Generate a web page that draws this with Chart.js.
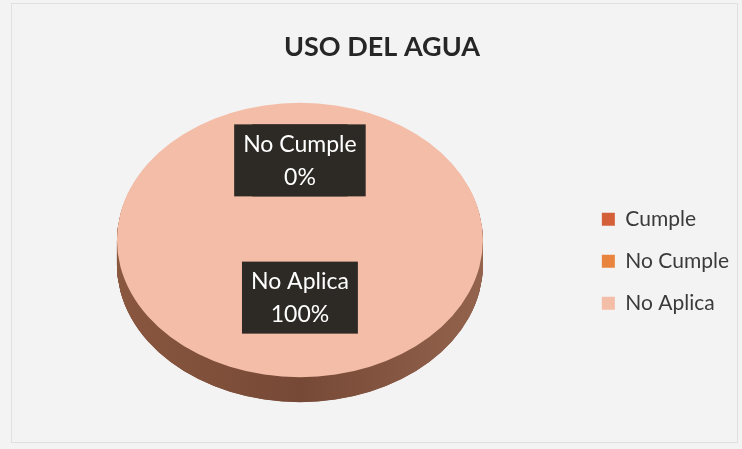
<!DOCTYPE html>
<html lang="es">
<head>
  <meta charset="UTF-8">
  <title>Uso del agua</title>
  <script src="https://cdn.jsdelivr.net/npm/chart.js"></script>
  <style>
    html, body { margin: 0; padding: 0; background: #f2f2f3; }
    #wrap { width: 742px; height: 449px; }
  </style>
</head>
<body>
<div id="wrap"><canvas id="myChart" width="742" height="449"></canvas></div>

<script>
  const chartTitle = 'USO DEL AGUA';
  const categories = ['Cumple', 'No Cumple', 'No Aplica'];
  const values = [0, 0, 100];
  const sliceColors = ['#d4603a', '#e9843e', '#f4bda8'];

  const tilt = 0.75;   // vertical squash of the pie top
  const depth = 25;    // thickness of the pie edge in px
  const font = 'Lato, "Open Sans", sans-serif';

  // background, faint frame and the title (sits a bit right of centre)
  const paperBg = {
    id: 'paperBg',
    beforeDraw(chart) {
      const ctx = chart.ctx;
      ctx.save();
      ctx.fillStyle = '#f3f3f4';
      ctx.fillRect(0, 0, chart.width, chart.height);
      ctx.strokeStyle = '#e0e0e2';
      ctx.lineWidth = 1;
      ctx.strokeRect(11.5, 3.5, chart.width - 16, chart.height - 10);
      ctx.fillStyle = '#262626';
      ctx.font = 'bold 27px ' + font;
      ctx.textAlign = 'center';
      ctx.textBaseline = 'middle';
      ctx.fillText(chartTitle, 382, 47);
      ctx.restore();
    }
  };

  // squash the pie into an ellipse and draw its side
  const pie3d = {
    id: 'pie3d',
    beforeDatasetsDraw(chart) {
      const ctx = chart.ctx;
      const arcs = chart.getDatasetMeta(0).data;
      if (!arcs.length) return;
      const cx = arcs[0].x, cy = arcs[0].y;
      ctx.save();
      ctx.translate(cx, cy);
      ctx.scale(1, tilt);
      ctx.translate(-cx, -cy);

      const r = arcs[0].outerRadius;
      const grad = ctx.createLinearGradient(cx - r, 0, cx + r, 0);
      grad.addColorStop(0, '#8a573f');
      grad.addColorStop(0.5, '#764936');
      grad.addColorStop(1, '#93634d');
      for (let d = depth / tilt; d >= 1; d -= 0.5) {
        arcs.forEach((el) => {
          if (el.endAngle - el.startAngle <= 0) return;
          ctx.beginPath();
          ctx.moveTo(el.x, el.y + d);
          ctx.arc(el.x, el.y + d, el.outerRadius, el.startAngle, el.endAngle);
          ctx.closePath();
          ctx.fillStyle = grad;
          ctx.fill();
        });
      }
    },
    afterDatasetsDraw(chart) {
      const ctx = chart.ctx;
      ctx.restore();

      // dark data label boxes
      const meta = chart.getDatasetMeta(0);
      ctx.save();
      ctx.font = '23px ' + font;
      ctx.textAlign = 'center';
      ctx.textBaseline = 'middle';
      meta.data.forEach((el, i) => {
        const pos = el.tooltipPosition();
        const x = pos.x;
        const y = el.y + (pos.y - el.y) * tilt - 11;
        const lines = [categories[i], values[i] + '%'];
        const w = Math.max(...lines.map(t => ctx.measureText(t).width)) + 18;
        const h = 72;
        ctx.fillStyle = '#2d2924';
        ctx.fillRect(x - w / 2, y - h / 2, w, h);
        ctx.fillStyle = '#ffffff';
        ctx.fillText(lines[0], x, y - 16);
        ctx.fillText(lines[1], x, y + 17);
      });
      ctx.restore();
    }
  };

  const ctx = document.getElementById('myChart').getContext('2d');
  const myChart = new Chart(ctx, {
    type: 'pie',
    data: {
      labels: categories,
      datasets: [{
        data: values,
        backgroundColor: sliceColors,
        borderWidth: 0,
        clip: false
      }]
    },
    options: {
      responsive: false,
      animation: false,
      layout: { padding: { left: 19, right: 3, top: 57, bottom: 26 } },
      plugins: {
        title: { display: false },
        legend: {
          position: 'right',
          title: {
            display: true,
            text: ' ',
            font: { size: 12, lineHeight: 1.2 },
            padding: { top: 28, bottom: 0 }
          },
          labels: {
            color: '#3a3a3a',
            font: { family: font, size: 21 },
            boxWidth: 13,
            boxHeight: 13,
            padding: 21
          }
        },
        tooltip: { enabled: false }
      }
    },
    plugins: [paperBg, pie3d]
  });
</script>
</body>
</html>
